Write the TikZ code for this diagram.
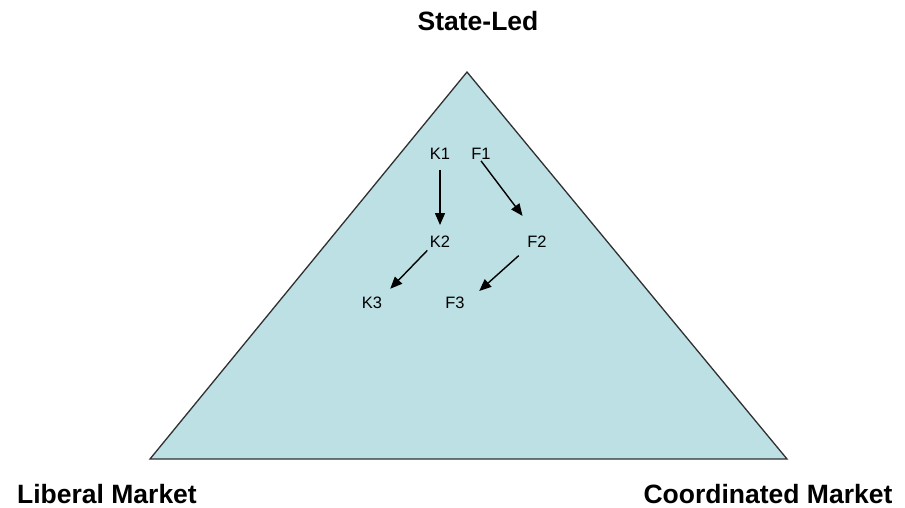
\documentclass[tikz,border=0pt]{standalone}
\usepackage{fontspec}
\setmainfont{Liberation Sans}
\usepackage{tikz}
\usetikzlibrary{arrows.meta}
\definecolor{paleblue}{HTML}{BCE0E3}
\definecolor{edgegray}{HTML}{303030}
\tikzset{pole/.style={font=\fontsize{26.5}{31}\selectfont\bfseries,inner sep=0pt},firm/.style={font=\fontsize{16.5}{19}\selectfont,inner sep=1pt},arr/.style={-{Triangle[length=12pt,width=10pt]},draw=black,line width=1.4pt}}

\begin{document}
\begin{tikzpicture}[x=1pt,y=-1pt]
\useasboundingbox (0,0) rectangle (905,508);
\coordinate (top) at (467,72);
\coordinate (bl) at (150,459);
\coordinate (br) at (787,459);
\filldraw[fill=paleblue,draw=edgegray,line width=1.3pt,line join=miter](top)--(bl)--(br)--cycle;
\node[pole] (state) at (478,21) {State-Led};
\node[pole] (liberal) at (107,494) {Liberal Market};
\node[pole] (coord) at (768,494) {Coordinated Market};
\node[firm] (K1) at (440,154) {K1};
\node[firm] (F1) at (481,154) {F1};
\node[firm] (K2) at (440,242) {K2};
\node[firm] (F2) at (537,242) {F2};
\node[firm] (K3) at (372,303) {K3};
\node[firm] (F3) at (455,303) {F3};
\draw[arr,shorten <=9pt,shorten >=10pt](K1.south)--(K2.north);
\draw[arr,shorten <=0pt,shorten >=24pt](F1.south)--(F2.north);
\draw[arr,shorten <=2pt,shorten >=10pt](K2.south west)--(K3.north east);
\draw[arr,shorten <=10pt,shorten >=18pt](F2.south west)--(F3.east);
\end{tikzpicture}
\end{document}
